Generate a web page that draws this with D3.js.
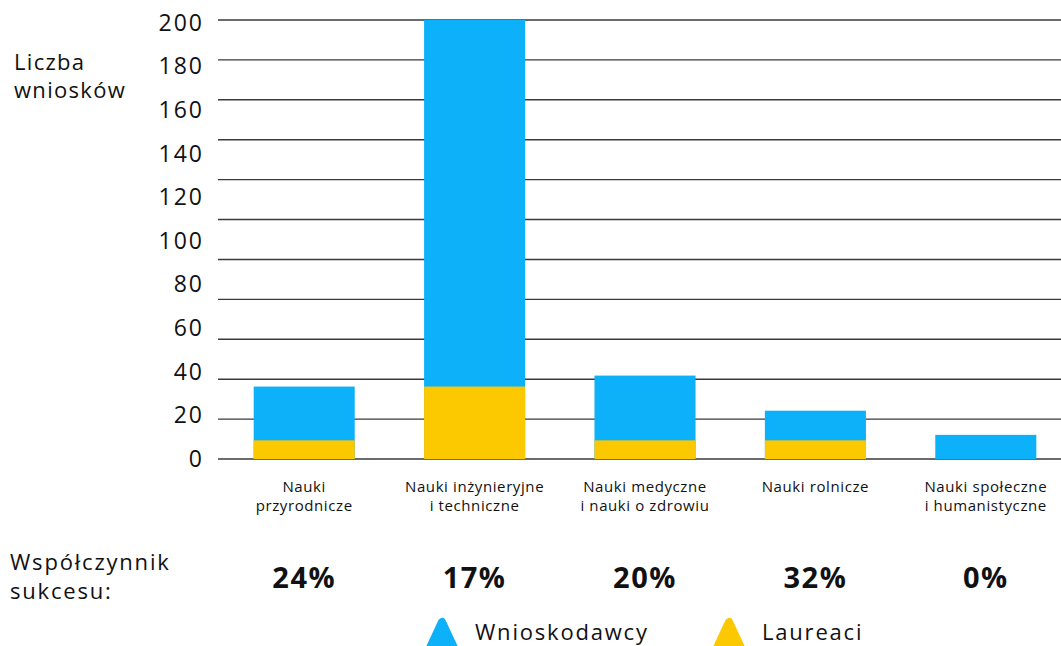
<!DOCTYPE html>
<html><head><meta charset="utf-8">
<script src="https://cdn.jsdelivr.net/npm/d3@7"></script>
<style>body{margin:0;background:#fff}svg{display:block}text{font-family:"Open Sans","Noto Sans",sans-serif}</style>
</head><body><svg id="c" width="1061" height="646"></svg>
<script>
const categories = [["Nauki","przyrodnicze"],["Nauki inżynieryjne","i techniczne"],["Nauki medyczne","i nauki o zdrowiu"],["Nauki rolnicze"],["Nauki społeczne","i humanistyczne"]];
const wnioskodawcy = [33, 200, 38, 22, 11];
const laureaci = [8.5, 33, 8.5, 8.5, 0];
const successRates = ["24%","17%","20%","32%","0%"];
const yTicks = [0,20,40,60,80,100,120,140,160,180,200];
const gridTicks = [0,20,40,60,80,100,120,140,160,180,200,220];
const seriesNames = ["Wnioskodawcy","Laureaci"];
const colors = ["#0DB1FA","#FCC800"];

const svg = d3.select("#c");
const x = d3.scaleBand().domain(d3.range(categories.length)).range([219,1071]).paddingInner(0.407).paddingOuter(0.2035);
const y = d3.scaleLinear().domain([0,200]).range([459,20]);
const yLabel = d3.scaleLinear().domain([0,200]).range([458.5,22.5]);
const yGrid = d3.scaleLinear().domain([0,220]).range([459,20]);

// gridlines
svg.append("g").selectAll("line").data(gridTicks).join("line")
  .attr("x1",218).attr("x2",1061)
  .attr("y1",d=>yGrid(d)).attr("y2",d=>yGrid(d))
  .attr("stroke","#3a3a3a").attr("stroke-width",1.4);

// y labels
svg.append("g").selectAll("text").data(yTicks).join("text")
  .attr("x",204).attr("y",d=>yLabel(d)).attr("dy","0.36em")
  .attr("text-anchor","end").attr("font-size",23).attr("letter-spacing",2).attr("fill","#111")
  .text(d=>d);

svg.append("text").attr("x",14).attr("y",70).attr("font-size",22).attr("letter-spacing",1.3).attr("fill","#111").text("Liczba");
svg.append("text").attr("x",14).attr("y",98).attr("font-size",22).attr("letter-spacing",1.3).attr("fill","#111").text("wniosków");

// bars
svg.append("g").selectAll("rect").data(wnioskodawcy).join("rect")
  .attr("x",(d,i)=>x(i)).attr("width",x.bandwidth())
  .attr("y",d=>y(d)).attr("height",d=>y(0)-y(d)).attr("fill",colors[0]);
svg.append("g").selectAll("rect").data(laureaci).join("rect")
  .attr("x",(d,i)=>x(i)).attr("width",x.bandwidth())
  .attr("y",d=>y(d)).attr("height",d=>y(0)-y(d)).attr("fill",colors[1]);

// category labels
const cl = svg.append("g").selectAll("text").data(categories).join("text")
  .attr("x",(d,i)=>x(i)+x.bandwidth()/2).attr("y",492)
  .attr("text-anchor","middle").attr("font-size",15).attr("letter-spacing",0.6).attr("fill","#111");
cl.selectAll("tspan").data(d=>d).join("tspan")
  .attr("x",function(){return this.parentNode.getAttribute("x");})
  .attr("dy",(d,i)=>i?19:0).text(d=>d);

// success
svg.append("text").attr("x",10).attr("y",570).attr("font-size",22).attr("letter-spacing",1.8).attr("fill","#111").text("Współczynnik");
svg.append("text").attr("x",10).attr("y",599).attr("font-size",22).attr("letter-spacing",1.8).attr("fill","#111").text("sukcesu:");
svg.append("g").selectAll("text").data(successRates).join("text")
  .attr("x",(d,i)=>x(i)+x.bandwidth()/2).attr("y",588)
  .attr("text-anchor","middle").attr("font-size",29).attr("letter-spacing",1.5).attr("font-weight",700).attr("fill","#111")
  .text(d=>d);

// legend
const lx = [442, 729];
const lg = svg.append("g").selectAll("g").data(seriesNames).join("g")
  .attr("transform",(d,i)=>`translate(${lx[i]},0)`);
lg.append("path").attr("d","M0,622 L-14,652 L14,652 Z")
  .attr("fill",(d,i)=>colors[i]).attr("stroke",(d,i)=>colors[i]).attr("stroke-width",8).attr("stroke-linejoin","round");
lg.append("text").attr("x",33).attr("y",640).attr("font-size",22).attr("letter-spacing",1.8).attr("fill","#111").text(d=>d);
</script></body></html>
